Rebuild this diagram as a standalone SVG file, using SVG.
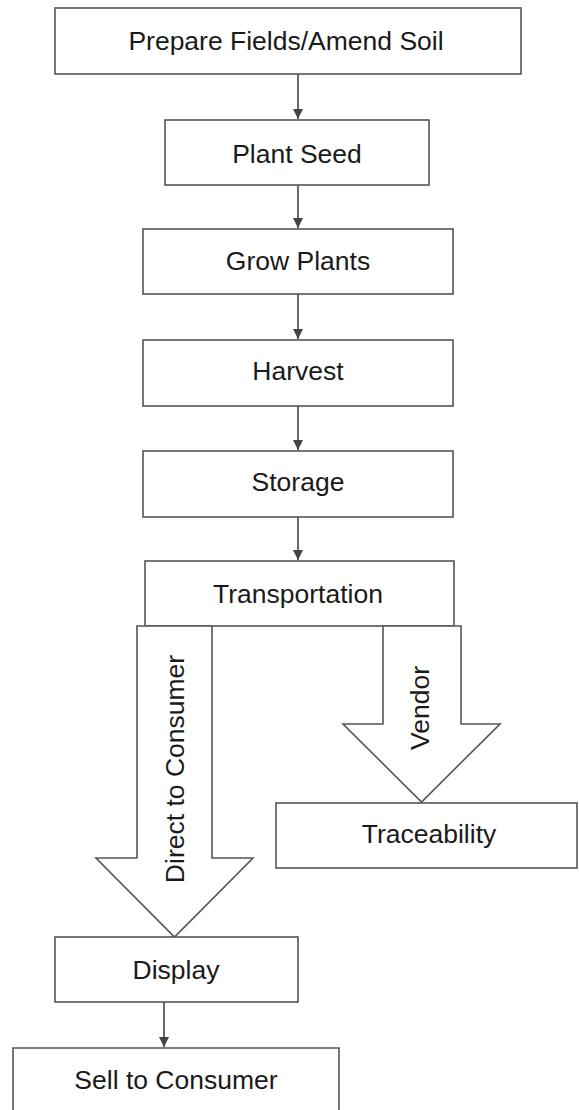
<svg xmlns="http://www.w3.org/2000/svg" width="579" height="1110" viewBox="0 0 579 1110">
<defs>
<style>
.box{fill:#fff;stroke:#555;stroke-width:1.6}
.big{fill:#fff;stroke:#555;stroke-width:1.6;stroke-linejoin:miter}
.lbl{font-family:"Liberation Sans",Arial,sans-serif;font-size:26.5px;fill:#1a1a1a;text-anchor:middle}
.con{stroke:#444;stroke-width:1.6;fill:none}
</style>
<marker id="ah" markerUnits="userSpaceOnUse" markerWidth="12" markerHeight="12" refX="10" refY="5" orient="auto">
<path d="M0,0 L10,5 L0,10 Z" fill="#444"/>
</marker>
</defs>
<rect width="579" height="1110" fill="#fff"/>

<g id="connectors">
<line class="con" x1="298" y1="74" x2="298" y2="119" marker-end="url(#ah)"/>
<line class="con" x1="298" y1="185" x2="298" y2="228" marker-end="url(#ah)"/>
<line class="con" x1="298" y1="294" x2="298" y2="339" marker-end="url(#ah)"/>
<line class="con" x1="298" y1="406" x2="298" y2="450" marker-end="url(#ah)"/>
<line class="con" x1="298" y1="517" x2="298" y2="560" marker-end="url(#ah)"/>
<line class="con" x1="164" y1="1002" x2="164" y2="1047" marker-end="url(#ah)"/>
</g>

<g id="node-prepare">
<rect class="box" x="55" y="8" width="466" height="66"/>
<text class="lbl" x="286" y="50">Prepare Fields/Amend Soil</text>
</g>
<g id="node-plant">
<rect class="box" x="165" y="120" width="264" height="65"/>
<text class="lbl" x="297" y="163">Plant Seed</text>
</g>
<g id="node-grow">
<rect class="box" x="143" y="229" width="310" height="65"/>
<text class="lbl" x="298" y="270">Grow Plants</text>
</g>
<g id="node-harvest">
<rect class="box" x="143" y="340" width="310" height="66"/>
<text class="lbl" x="298" y="380">Harvest</text>
</g>
<g id="node-storage">
<rect class="box" x="143" y="451" width="310" height="66"/>
<text class="lbl" x="298" y="491">Storage</text>
</g>
<g id="node-transportation">
<rect class="box" x="145" y="561" width="309" height="65"/>
<text class="lbl" x="298" y="603">Transportation</text>
</g>

<g id="arrow-direct">
<path class="big" d="M137,626 L212,626 L212,858 L253,858 L174.5,937 L96,858 L137,858 Z"/>
<text class="lbl" transform="translate(184,769) rotate(-90)">Direct to Consumer</text>
</g>
<g id="arrow-vendor">
<path class="big" d="M383,626 L461,626 L461,724 L500,724 L421.5,802 L343,724 L383,724 Z"/>
<text class="lbl" transform="translate(429,708) rotate(-90)">Vendor</text>
</g>

<g id="node-traceability">
<rect class="box" x="276" y="803" width="301" height="65"/>
<text class="lbl" x="429" y="843">Traceability</text>
</g>
<g id="node-display">
<rect class="box" x="55" y="937" width="243" height="65"/>
<text class="lbl" x="176" y="979">Display</text>
</g>
<g id="node-sell">
<path class="box" d="M13,1112 L13,1048 L339,1048 L339,1112"/>
<text class="lbl" x="176" y="1089">Sell to Consumer</text>
</g>
</svg>
